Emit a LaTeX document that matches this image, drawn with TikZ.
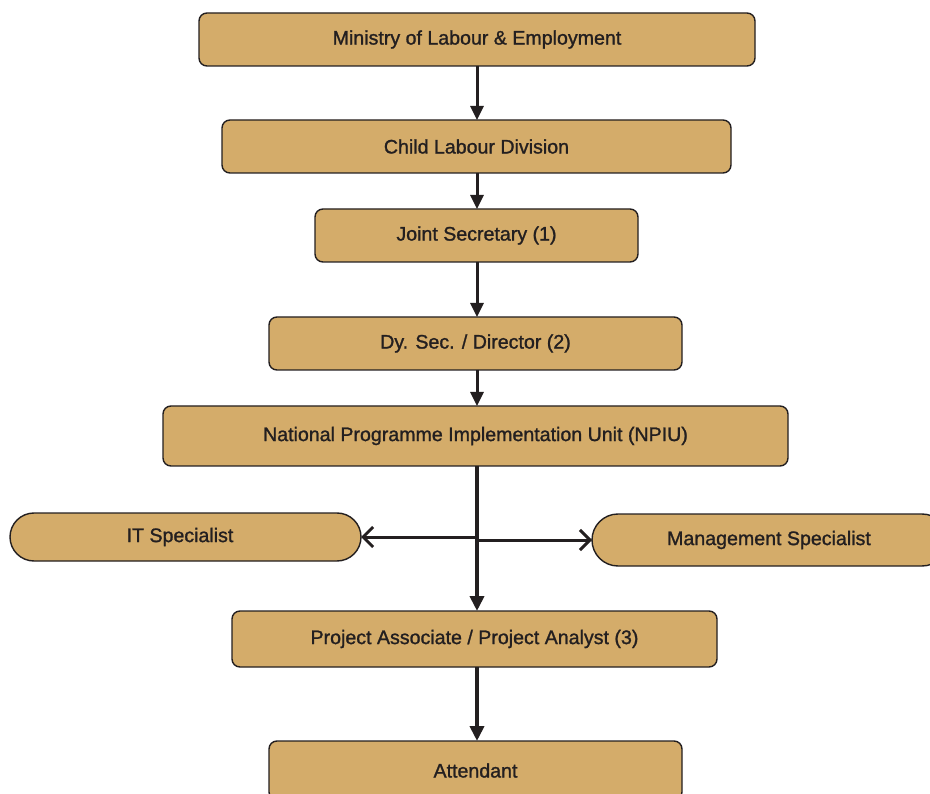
\documentclass[tikz,border=0pt]{standalone}
\usepackage{fontspec}
\setmainfont{Liberation Sans}
\newfontfamily\labelfont{Liberation Sans}[FakeBold=1.2]
\usetikzlibrary{arrows.meta}
\definecolor{boxfill}{HTML}{D4AC6A}
\definecolor{ink}{HTML}{231F20}
\tikzset{
  unit/.style={draw=ink, line width=1.4pt, fill=boxfill, rounded corners=8pt},
  pill/.style={draw=ink, line width=1.4pt, fill=boxfill, rounded corners=24pt},
  label/.style={text=ink, font=\labelfont\fontsize{19.6}{22}\selectfont},
  flow/.style={draw=ink, line width=3pt, -{Triangle[length=14pt,width=13pt]}},
  flowthick/.style={draw=ink, line width=4.5pt, -{Triangle[length=15pt,width=14pt]}},
  side/.style={draw=ink, line width=3pt, -{Straight Barb[length=10pt,width=20pt,line width=3pt]}},
}
\newcommand{\unitbox}[6]{% name, x1, y1, x2, y2, text
  \path[unit] (#2,#3) rectangle (#4,#5);
  \node[label] (#1) at ({(#2+#4)/2},{(#3+#5)/2}) {#6};
  \coordinate (#1-n) at ({(#2+#4)/2},#3);
  \coordinate (#1-s) at ({(#2+#4)/2},#5);
}
\begin{document}
\begin{tikzpicture}[x=1pt,y=-1pt]
\useasboundingbox (0,0) rectangle (930,794);
\clip (0,0) rectangle (930,794);

% hierarchy boxes
\unitbox{mol}{199}{13}{755}{66}{Ministry of Labour \& Employment}
\unitbox{cld}{222}{120}{731}{173}{Child Labour Division}
\unitbox{js}{315}{209}{638}{262}{Joint Secretary (1)}
\unitbox{dir}{269}{317}{682}{370}{Dy. Sec. / Director (2)}
\unitbox{npiu}{163}{406}{788}{466}{National Programme Implementation Unit (NPIU)}
\unitbox{pa}{232}{611}{717}{667}{Project Associate / Project Analyst (3)}
\unitbox{att}{269}{741}{682}{800}{Attendant}

% specialist pills
\path[pill] (10,513) rectangle (361,561);
\node[label] (its) at (180,537) {IT Specialist};
\coordinate (its-e) at (361,537);
\path[pill, rounded corners=26pt] (592,514) rectangle (948,566);
\node[label] (ms) at (769,540) {Management Specialist};
\coordinate (ms-w) at (592,540);

% connectors
\coordinate (ax) at (477,0);
\draw[flow] (mol-s -| ax) -- (cld-n -| ax);
\draw[flow] (cld-s -| ax) -- (js-n -| ax);
\draw[flow] (js-s -| ax) -- (dir-n -| ax);
\draw[flow] (dir-s -| ax) -- (npiu-n -| ax);
\draw[flowthick] (npiu-s -| ax) -- (pa-n -| ax);
\draw[flowthick] (pa-s -| ax) -- (att-n -| ax);
\draw[side] (its-e -| ax) -- (its-e);
\draw[side] (ms-w -| ax) -- (ms-w);
\end{tikzpicture}
\end{document}
